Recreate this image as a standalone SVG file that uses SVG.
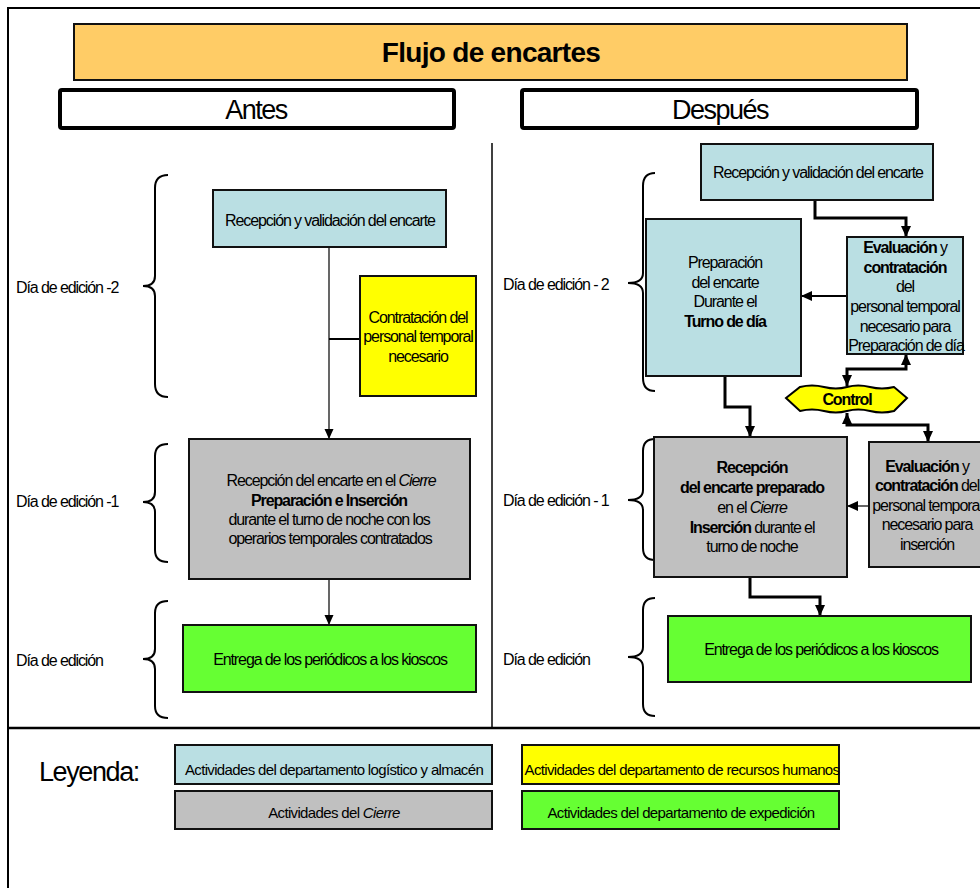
<svg xmlns="http://www.w3.org/2000/svg" width="980" height="888" viewBox="0 0 980 888">
<defs>
<style>
.t{font-family:"Liberation Sans",Arial,sans-serif;font-size:16px;letter-spacing:-1.1px;text-anchor:middle;fill:#000}
.l{font-family:"Liberation Sans",Arial,sans-serif;font-size:16px;letter-spacing:-1.1px;fill:#000}
.lg{font-family:"Liberation Sans",Arial,sans-serif;font-size:15px;letter-spacing:-0.65px;text-anchor:middle;fill:#000}
.b{font-weight:bold}
.i{font-style:italic}
.box{stroke:#111;stroke-width:2}
.blue{fill:#BADFE3}
.gray{fill:#C0C0C0}
.yel{fill:#FFFF00}
.grn{fill:#66FF33}
.brace{fill:none;stroke:#000;stroke-width:2}
.thin{fill:none;stroke:#000;stroke-width:1.2}
.thick{fill:none;stroke:#000;stroke-width:3}
.mid{fill:none;stroke:#000;stroke-width:2}
</style>
<marker id="a1" markerUnits="userSpaceOnUse" markerWidth="10" markerHeight="10" viewBox="0 0 10 10" refX="10" refY="5" orient="auto-start-reverse"><path d="M0,0.5 L10,5 L0,9.5 z" fill="#000"/></marker>
<marker id="a2" markerUnits="userSpaceOnUse" markerWidth="11" markerHeight="11" viewBox="0 0 11 11" refX="11" refY="5.5" orient="auto-start-reverse"><path d="M0,0.5 L11,5.5 L0,10.5 z" fill="#000"/></marker>
</defs>
<rect width="980" height="888" fill="#fff"/>
<g id="frame">
<path d="M8,888 L8,8 L980,8" fill="none" stroke="#000" stroke-width="2"/>
<line x1="8" y1="728" x2="980" y2="728" stroke="#000" stroke-width="2.5"/>
<line x1="492" y1="143" x2="492" y2="728" stroke="#000" stroke-width="1.5"/>
</g>
<g id="title">
<rect x="74" y="24" width="833" height="56" fill="#FFCC66" stroke="#111" stroke-width="2"/>
<text x="491" y="62" class="t b" style="font-size:28px;letter-spacing:-0.7px">Flujo de encartes</text>
</g>
<g id="antes">
<rect x="60" y="90" width="394" height="38" rx="2" fill="#fff" stroke="#000" stroke-width="4"/>
<text x="256" y="119" class="t" style="font-size:27px;letter-spacing:-1.5px">Antes</text>
</g>
<g id="despues">
<rect x="522" y="90" width="395" height="38" rx="2" fill="#fff" stroke="#000" stroke-width="4"/>
<text x="720" y="119" class="t" style="font-size:27px;letter-spacing:-1.5px">Después</text>
</g>
<g id="braces">
<path class="brace" d="M168,175 Q155,175 155,188 L155,276 Q155,286 143,286 Q155,286 155,296 L155,384 Q155,397 168,397"/>
<path class="brace" d="M168,444 Q155,444 155,456 L155,492 Q155,502 143,502 Q155,502 155,512 L155,550 Q155,562 168,562"/>
<path class="brace" d="M168,601 Q155,601 155,613 L155,649 Q155,659 143,659 Q155,659 155,669 L155,706 Q155,718 168,718"/>
<path class="brace" d="M655,173 Q643,173 643,186 L643,273 Q643,283 628,283 Q643,283 643,293 L643,378 Q643,391 655,391"/>
<path class="brace" d="M655,439 Q643,439 643,451 L643,490 Q643,500 628,500 Q643,500 643,510 L643,548 Q643,560 655,560"/>
<path class="brace" d="M655,598 Q643,598 643,610 L643,647 Q643,657 628,657 Q643,657 643,667 L643,704 Q643,716 655,716"/>
</g>
<g id="labels">
<text x="16" y="293" class="l">Día de edición -2</text>
<text x="16" y="507" class="l">Día de edición -1</text>
<text x="16" y="666" class="l">Día de edición</text>
<text x="503" y="290" class="l">Día de edición - 2</text>
<text x="503" y="506" class="l">Día de edición - 1</text>
<text x="503" y="665" class="l">Día de edición</text>
</g>
<g id="connectors">
<path class="thin" d="M329,247 L329,439" marker-end="url(#a1)"/>
<line x1="329" y1="339" x2="360" y2="339" stroke="#000" stroke-width="2"/>
<path class="thin" d="M329,579 L329,625" marker-end="url(#a1)"/>
<path class="thick" d="M815,200 L815,218 L906,218 L906,237" marker-end="url(#a2)"/>
<path class="mid" d="M847,296 L801,296" marker-end="url(#a2)"/>
<path class="thick" d="M725,376 L725,407 L750,407 L750,437" marker-end="url(#a2)"/>
<path class="thick" d="M906,354 L906,369 L847,369 L847,386" marker-start="url(#a2)" marker-end="url(#a2)"/>
<path class="thick" d="M847,413 L847,425 L928,425 L928,442" marker-start="url(#a2)" marker-end="url(#a2)"/>
<path class="thin" d="M869,506 L847,506" stroke-width="1.5" marker-end="url(#a2)"/>
<path class="thick" d="M750,577 L750,597 L820,597 L820,616" marker-end="url(#a2)"/>
</g>
<g id="n-recepcion-antes">
<rect x="213" y="190" width="233" height="57" class="box blue"/>
<text x="330" y="226" class="t">Recepción y validación del encarte</text>
</g>
<g id="n-contratacion-antes">
<rect x="360" y="276" width="116" height="120" class="box yel"/>
<text class="t"><tspan x="418" y="323">Contratación del</tspan><tspan x="418" y="342">personal temporal</tspan><tspan x="418" y="362">necesario</tspan></text>
</g>
<g id="n-cierre-antes">
<rect x="189" y="439" width="281" height="140" class="box gray"/>
<text class="t"><tspan x="331" y="486">Recepción del encarte en el <tspan class="i">Cierre</tspan></tspan><tspan x="329" y="506" class="b">Preparación e Inserción</tspan><tspan x="329" y="525">durante el turno de noche con los</tspan><tspan x="330" y="544">operarios temporales contratados</tspan></text>
</g>
<g id="n-entrega-antes">
<rect x="183" y="625" width="293" height="67" class="box grn"/>
<text x="330" y="665" class="t">Entrega de los periódicos a los kioscos</text>
</g>
<g id="n-recepcion-despues">
<rect x="701" y="144" width="232" height="56" class="box blue"/>
<text x="818" y="178" class="t">Recepción y validación del encarte</text>
</g>
<g id="n-preparacion">
<rect x="646" y="219" width="155" height="157" class="box blue"/>
<text class="t"><tspan x="725" y="268">Preparación</tspan><tspan x="725" y="288">del encarte</tspan><tspan x="725" y="307">Durante el</tspan><tspan x="725" y="327" class="b">Turno de día</tspan></text>
</g>
<g id="n-evaluacion-dia">
<rect x="847" y="237" width="116" height="117" class="box blue"/>
<text class="t"><tspan x="905" y="253"><tspan class="b">Evaluación</tspan> y</tspan><tspan x="905" y="273" class="b">contratación</tspan><tspan x="905" y="292">del</tspan><tspan x="905" y="312">personal temporal</tspan><tspan x="905" y="332">necesario para</tspan><tspan x="906" y="351">Preparación de día</tspan></text>
</g>
<g id="n-control">
<path d="M786,398 L800,387 Q812,384 824,387 Q836,390 847,387 Q858,384 870,387 Q882,390 894,387 L907,398 L894,411 Q882,414 870,411 Q858,408 847,411 Q836,414 824,411 Q812,408 800,411 Z" fill="#FFFF00" stroke="#000" stroke-width="2"/>
<text x="847" y="405" class="t b">Control</text>
</g>
<g id="n-recepcion-cierre">
<rect x="654" y="437" width="193" height="140" class="box gray"/>
<text class="t"><tspan x="752" y="473" class="b">Recepción</tspan><tspan x="752" y="493" class="b">del encarte preparado</tspan><tspan x="752" y="513">en el <tspan class="i">Cierre</tspan></tspan><tspan x="752" y="533"><tspan class="b">Inserción</tspan> durante el</tspan><tspan x="752" y="552">turno de noche</tspan></text>
</g>
<g id="n-evaluacion-insercion">
<rect x="869" y="442" width="120" height="125" class="box gray"/>
<text class="t"><tspan x="927" y="472"><tspan class="b">Evaluación</tspan> y</tspan><tspan x="927" y="491"><tspan class="b">contratación</tspan> del</tspan><tspan x="927" y="511">personal temporal</tspan><tspan x="927" y="530">necesario para</tspan><tspan x="927" y="550">inserción</tspan></text>
</g>
<g id="n-entrega-despues">
<rect x="668" y="616" width="303" height="66" class="box grn"/>
<text x="821" y="655" class="t">Entrega de los periódicos a los kioscos</text>
</g>
<g id="legend">
<text x="39" y="781" class="l" style="font-size:27px;letter-spacing:-1.4px">Leyenda:</text>
<rect x="175" y="745" width="317" height="39" class="box blue"/>
<text x="334" y="775" class="lg">Actividades del departamento logístico y almacén</text>
<rect x="522" y="745" width="317" height="39" class="box yel"/>
<text x="682" y="775" class="lg">Actividades del departamento de recursos humanos</text>
<rect x="175" y="791" width="317" height="38" class="box gray"/>
<text x="334" y="818" class="lg">Actividades del <tspan class="i">Cierre</tspan></text>
<rect x="522" y="791" width="317" height="38" class="box grn"/>
<text x="681" y="818" class="lg">Actividades del departamento de expedición</text>
</g>
</svg>
